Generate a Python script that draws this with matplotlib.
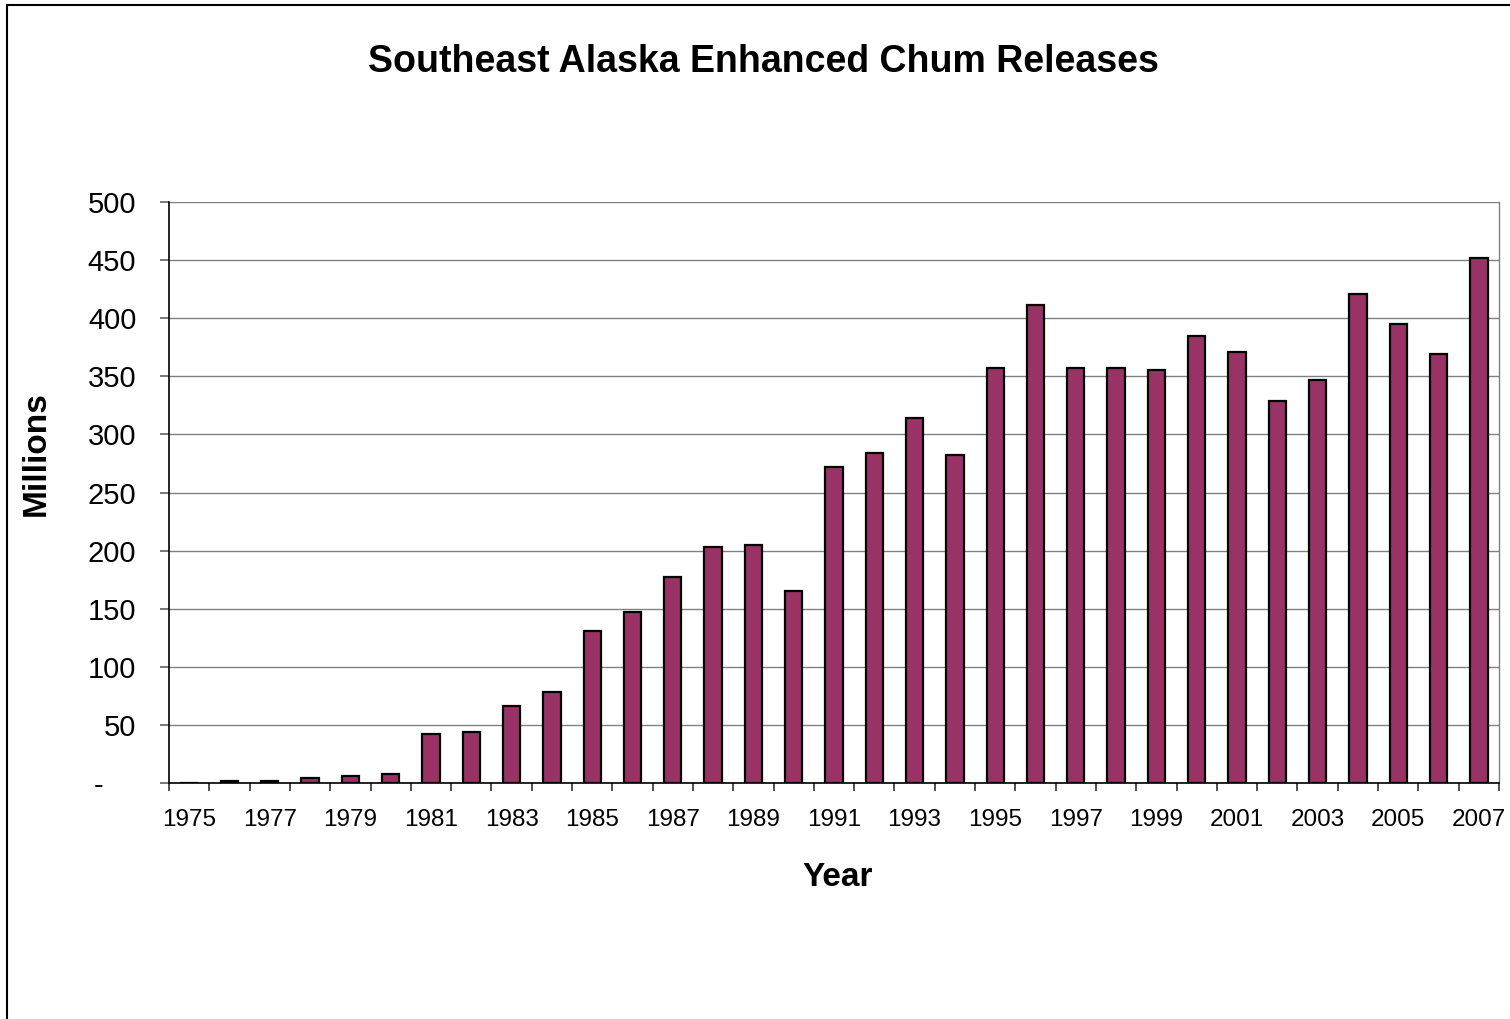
import matplotlib
matplotlib.use("Agg")
import matplotlib.pyplot as plt
from matplotlib.patches import Rectangle
from matplotlib.ticker import FixedLocator, FuncFormatter

plt.rcParams['font.family'] = ['Liberation Sans', 'DejaVu Sans']

years = list(range(1975, 2008))
releases = [0, 1.5, 1.5, 4, 6, 8, 42, 44, 66, 78, 131, 147, 177, 203, 205, 165,
            272, 284, 314, 282, 357, 411, 357, 357, 355, 385, 371, 329, 347,
            421, 395, 369, 452]
yticks = [0, 50, 100, 150, 200, 250, 300, 350, 400, 450, 500]

W, H = 1510, 1019
fig = plt.figure(figsize=(W / 100, H / 100), dpi=100)
ax = fig.add_axes([169 / W, 1 - 783 / H, (1499 - 169) / W, (783 - 202) / H])

x = list(range(len(years)))
ax.bar(x, releases, width=0.43, color='#993366', edgecolor='black', linewidth=1.6, zorder=3)

ax.set_xlim(-0.5, len(years) - 0.5)
ax.set_ylim(0, 500)

ax.yaxis.set_major_locator(FixedLocator(yticks))
ax.yaxis.set_major_formatter(FuncFormatter(lambda v, p: '-    ' if v == 0 else f'{int(v)}'))
ax.grid(axis='y', color='#808080', linewidth=1.0, zorder=0)

ax.set_xticks(x[::2])
ax.set_xticklabels([str(y) for y in years[::2]])
ax.set_xticks([i - 0.5 for i in range(len(years) + 1)], minor=True)
ax.tick_params(axis='x', which='major', length=0, pad=19, labelsize=17.5)
ax.tick_params(axis='x', which='minor', length=6, width=1.2, direction='out', color='#303030')
ax.tick_params(axis='y', length=6.5, width=1.2, direction='out', color='#606060', labelsize=21, pad=17)

ax.spines['top'].set_visible(False)
ax.spines['right'].set_color('#808080')
ax.spines['right'].set_linewidth(1.0)
ax.spines['left'].set_linewidth(1.2)
ax.spines['bottom'].set_linewidth(1.2)

fig.text(763 / W, 1 - 62 / H, 'Southeast Alaska Enhanced Chum Releases', ha='center', va='center',
         fontsize=27, fontweight='bold')
fig.text(36 / W, 1 - 454 / H, 'Millions', ha='center', va='center', rotation=90,
         fontsize=24, fontweight='bold')
fig.text(838 / W, 1 - 878 / H, 'Year', ha='center', va='center',
         fontsize=24, fontweight='bold')

fig.patches.append(Rectangle((7 / W, -0.05), 1.1, 1 - 5 / H + 0.05, transform=fig.transFigure,
                             fill=False, edgecolor='black', linewidth=1.5))

fig.savefig('out.png', dpi=100)
